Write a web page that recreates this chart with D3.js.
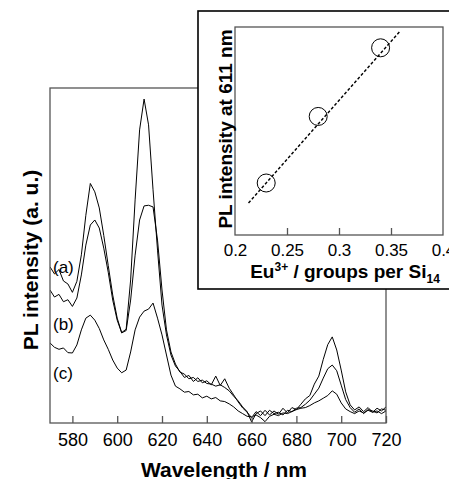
<!DOCTYPE html>
<html>
<head>
<meta charset="utf-8">
<script src="https://cdn.jsdelivr.net/npm/d3@7"></script>
<style>
  body { margin: 0; background: #fff; }
  text { font-family: "Liberation Sans", Arial, sans-serif; fill: #000; }
</style>
</head>
<body>
<script>
// wavelength grid (nm) and the three PL spectra, arbitrary units
var wavelengths = d3.range(570, 721, 2);
var specA = [46.6, 44.5, 45.8, 42.4, 41.5, 39.0, 42.3, 50.2, 62.0, 71.5,
    69.0, 64.2, 56.0, 47.0, 38.2, 31.3, 27.0, 28.0, 42.7, 66.6,
    87.5, 96.7, 89.0, 69.6, 51.6, 35.2, 26.3, 20.3, 17.0, 15.4,
    13.6, 14.2, 12.4, 13.5, 12.0, 12.6, 11.4, 14.0, 11.2, 13.2,
    10.4, 8.4, 6.3, 4.5, 3.2, 1.6, 3.4, 2.2, 3.8, 2.4,
    3.6, 2.6, 4.4, 3.0, 4.6, 4.0, 5.6, 7.2, 8.2, 11.6,
    14.0, 19.0, 23.4, 25.7, 21.8, 15.8, 9.3, 5.4, 3.9, 4.8,
    3.4, 4.6, 3.2, 4.4, 3.6, 4.8];
var specB = [39.7, 37.6, 38.4, 36.2, 36.8, 34.8, 37.3, 44.2, 53.1, 59.1,
    60.6, 58.2, 52.2, 45.0, 36.7, 30.7, 26.9, 27.6, 36.7, 50.1,
    60.6, 64.8, 65.0, 64.5, 54.6, 39.7, 27.8, 21.2, 17.6, 15.2,
    14.6, 13.2, 13.6, 12.4, 12.8, 11.8, 11.6, 11.0, 11.4, 10.6,
    9.6, 8.0, 6.6, 4.8, 3.4, 0.3, 2.8, 3.6, 2.2, 3.8,
    2.8, 3.2, 2.4, 3.8, 3.4, 4.4, 4.6, 5.6, 6.8, 8.6,
    10.4, 13.4, 16.2, 17.3, 15.6, 11.3, 7.0, 4.6, 3.2, 4.2,
    2.8, 4.0, 3.6, 3.0, 4.2, 3.8];
var specC = [23.9, 22.6, 22.0, 22.4, 21.0, 20.9, 23.3, 27.8, 31.3, 32.2,
    30.7, 28.2, 24.8, 22.0, 18.8, 16.4, 15.0, 15.8, 21.2, 27.8,
    31.6, 33.4, 34.0, 35.8, 31.3, 26.3, 20.3, 14.3, 11.0, 10.2,
    9.2, 9.4, 8.4, 8.6, 7.5, 8.0, 7.2, 7.6, 6.6, 6.4,
    5.7, 4.8, 3.6, 2.8, 2.0, 1.8, 2.4, 1.6, 0.4, 2.0,
    2.6, 2.2, 3.0, 2.8, 3.4, 4.0, 4.4, 4.6, 5.2, 6.0,
    6.6, 7.4, 8.2, 9.6, 8.6, 6.0, 4.2, 3.4, 2.8, 3.6,
    3.0, 3.8, 3.2, 3.6, 2.8, 3.6];
var seriesLabels = ["(a)", "(b)", "(c)"];
var labelValues = [46.5, 29.5, 15];
var xTicks = [580, 600, 620, 640, 660, 680, 700, 720];

// inset: Eu3+ content vs PL intensity at 611 nm
var euContent = [0.23, 0.28, 0.34];
var pl611 = [0.25, 0.57, 0.90];
var fitX = [0.213, 0.358];
var fitY = [0.154, 0.976];
var insetTicks = [0.2, 0.25, 0.3, 0.35, 0.4];

var W = 449, H = 479;
var svg = d3.select("body").append("svg")
    .attr("width", W)
    .attr("height", H);

svg.append("rect").attr("width", W).attr("height", H).attr("fill", "#fff");

// main plot area
var main = {left: 50, top: 88, right: 386, bottom: 423};
var x = d3.scaleLinear().domain([570, 720]).range([main.left, main.right]);
var y = d3.scaleLinear().domain([0, 100]).range([main.bottom, main.top]);

svg.append("defs").append("clipPath").attr("id", "clipMain")
    .append("rect")
    .attr("x", main.left).attr("y", main.top)
    .attr("width", main.right - main.left)
    .attr("height", main.bottom - main.top);

var line = d3.line()
    .x(function (d) { return x(d[0]); })
    .y(function (d) { return y(d[1]); });

[specA, specB, specC].forEach(function (s) {
    var pts = wavelengths.map(function (w, i) { return [w, s[i]]; });
    svg.append("path")
        .attr("clip-path", "url(#clipMain)")
        .attr("d", line(pts))
        .attr("fill", "none")
        .attr("stroke", "#000")
        .attr("stroke-width", 1);
});

// frame
svg.append("rect")
    .attr("x", main.left).attr("y", main.top)
    .attr("width", main.right - main.left)
    .attr("height", main.bottom - main.top)
    .attr("fill", "none")
    .attr("stroke", "#555")
    .attr("stroke-width", 1.3);

// bottom axis, ticks pointing inward
var xAxis = svg.append("g")
    .attr("transform", "translate(0," + main.bottom + ")")
    .call(d3.axisBottom(x).tickValues(xTicks).tickSize(-7).tickPadding(0).tickFormat(d3.format("d")));
xAxis.select(".domain").remove();
xAxis.selectAll(".tick line").attr("stroke", "#555").attr("stroke-width", 1.3);
xAxis.selectAll(".tick text")
    .attr("y", 23)
    .attr("dy", null)
    .style("font-size", "18px");

// series labels
svg.selectAll(".slab").data(seriesLabels).enter().append("text")
    .attr("class", "slab")
    .attr("x", 53)
    .attr("y", function (d, i) { return y(labelValues[i]) + 6; })
    .style("font-size", "17px")
    .text(function (d) { return d; });

// axis titles
svg.append("text")
    .attr("x", 224).attr("y", 477)
    .attr("text-anchor", "middle")
    .style("font-size", "21px").style("font-weight", "bold")
    .text("Wavelength / nm");

svg.append("text")
    .attr("transform", "translate(38,260) rotate(-90)")
    .attr("text-anchor", "middle")
    .style("font-size", "21px").style("font-weight", "bold")
    .text("PL intensity (a. u.)");

// ---- inset ----
svg.append("rect")
    .attr("x", 198).attr("y", 11)
    .attr("width", 270).attr("height", 278)
    .attr("fill", "#fff")
    .attr("stroke", "#000")
    .attr("stroke-width", 1.6);

var ins = {left: 235, top: 27, right: 443, bottom: 235};
var ix = d3.scaleLinear().domain([0.2, 0.4]).range([ins.left, ins.right]);
var iy = d3.scaleLinear().domain([0, 1]).range([ins.bottom, ins.top]);

svg.append("rect")
    .attr("x", ins.left).attr("y", ins.top)
    .attr("width", ins.right - ins.left)
    .attr("height", ins.bottom - ins.top)
    .attr("fill", "none")
    .attr("stroke", "#555")
    .attr("stroke-width", 1.3);

var ixAxis = svg.append("g")
    .attr("transform", "translate(0," + ins.bottom + ")")
    .call(d3.axisBottom(ix).tickValues(insetTicks).tickSize(-7).tickFormat(d3.format("")));
ixAxis.select(".domain").remove();
ixAxis.selectAll(".tick line").attr("stroke", "#555").attr("stroke-width", 1.3)
    .filter(function (d) { return d === 0.2 || d === 0.4; }).remove();
ixAxis.selectAll(".tick text")
    .attr("y", 21)
    .attr("dy", null)
    .style("font-size", "17px");

svg.append("path")
    .attr("d", d3.line().x(function (d) { return ix(d[0]); }).y(function (d) { return iy(d[1]); })
        (fitX.map(function (v, i) { return [v, fitY[i]]; })))
    .attr("fill", "none")
    .attr("stroke", "#000")
    .attr("stroke-width", 1.4)
    .attr("stroke-dasharray", "3,2");

svg.selectAll(".pt").data(euContent).enter().append("circle")
    .attr("class", "pt")
    .attr("cx", function (d) { return ix(d); })
    .attr("cy", function (d, i) { return iy(pl611[i]); })
    .attr("r", 9)
    .attr("fill", "none")
    .attr("stroke", "#000")
    .attr("stroke-width", 1);

var xl = svg.append("text")
    .attr("x", 345).attr("y", 278)
    .attr("text-anchor", "middle")
    .style("font-size", "19px").style("font-weight", "bold");
xl.append("tspan").text("Eu");
xl.append("tspan").attr("dy", -7).style("font-size", "12px").text("3+");
xl.append("tspan").attr("dy", 7).text(" / groups per Si");
xl.append("tspan").attr("dy", 5).style("font-size", "12px").text("14");

svg.append("text")
    .attr("transform", "translate(232,129) rotate(-90)")
    .attr("text-anchor", "middle")
    .style("font-size", "19px").style("font-weight", "bold")
    .text("PL intensity at 611 nm");
</script>
</body>
</html>
